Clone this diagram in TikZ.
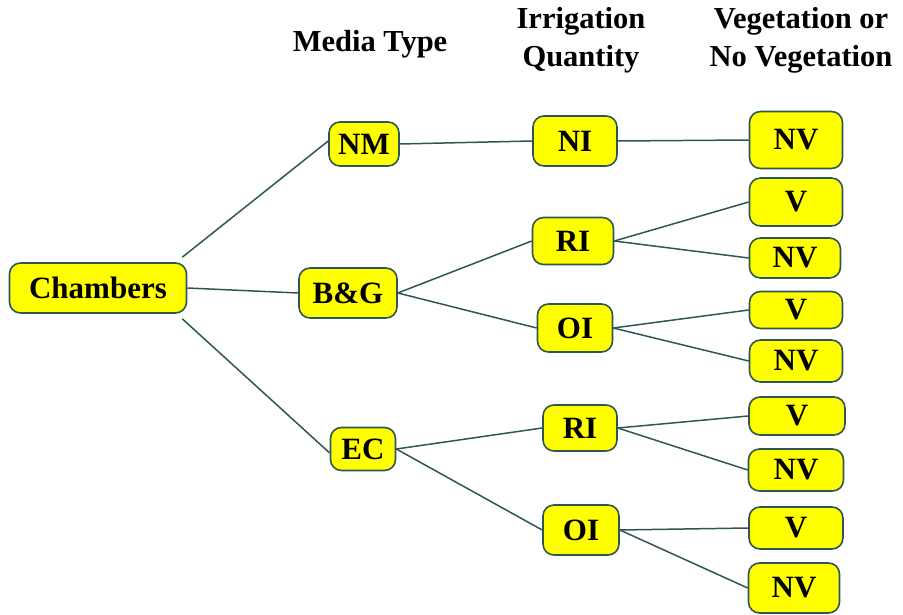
\documentclass[tikz,border=0pt]{standalone}
\usepackage{fontspec}
\setmainfont{Liberation Serif}[BoldFont={Liberation Serif Bold}]
\newfontfamily\tbf{Liberation Serif Bold}
\definecolor{linec}{HTML}{2F5656}
\definecolor{boxfill}{HTML}{FFFF00}
\begin{document}
\begin{tikzpicture}[x=1pt,y=-1pt,
  box/.style={draw=linec, line width=1.6pt, fill=boxfill, rounded corners=11pt,
    inner sep=0pt, font=\tbf\fontsize{31}{34}\selectfont},
  head/.style={align=center, inner sep=0pt, font=\tbf\fontsize{30.5}{38}\selectfont},
  conn/.style={draw=linec, line width=1.5pt}]
\useasboundingbox (0,0) rectangle (903,615);
% headers
\node[head] (h1) at (370,44) {Media Type};
\node[head] (h2) at (581,40) {Irrigation\\Quantity};
\node[head] (h3) at (801,40) {Vegetation or\\No Vegetation};
% nodes
\node[box, minimum width=177pt, minimum height=50pt] (ch) at (98,288) {Chambers};
\node[box, minimum width=70pt, minimum height=44pt] (nm) at (364,144) {NM};
\node[box, minimum width=98pt, minimum height=50pt] (bg) at (348,293) {B\&G};
\node[box, minimum width=65pt, minimum height=43pt] (ec) at (363,449) {EC};
\node[box, minimum width=84pt, minimum height=50pt] (ni) at (575,141) {NI};
\node[box, minimum width=81pt, minimum height=47pt] (ri1) at (573,241) {RI};
\node[box, minimum width=75pt, minimum height=48pt] (oi1) at (575,328) {OI};
\node[box, minimum width=74pt, minimum height=46pt] (ri2) at (580,428) {RI};
\node[box, minimum width=76pt, minimum height=50pt] (oi2) at (581,530) {OI};
\node[box, minimum width=93pt, minimum height=57pt] (nv0) at (796,140) {NV};
\node[box, minimum width=93pt, minimum height=48pt] (v1) at (796,202) {V};
\node[box, minimum width=91pt, minimum height=40pt] (nv1) at (795,258) {NV};
\node[box, minimum width=93pt, minimum height=37pt] (v2) at (796,310) {V};
\node[box, minimum width=93pt, minimum height=42pt] (nv2) at (796,361) {NV};
\node[box, minimum width=96pt, minimum height=38pt] (v3) at (797,416) {V};
\node[box, minimum width=95pt, minimum height=42pt] (nv3) at (796,470) {NV};
\node[box, minimum width=94pt, minimum height=42pt] (v4) at (796,528) {V};
\node[box, minimum width=91pt, minimum height=50pt] (nv4) at (794,588) {NV};
% connectors
\draw[conn] ([xshift=-5pt,yshift=5pt]ch.north east) -- ([yshift=3pt]nm.west);
\draw[conn] (ch.east) -- (bg.west);
\draw[conn] ([xshift=-5pt,yshift=-5pt]ch.south east) -- ([yshift=-4pt]ec.west);
\draw[conn] (nm.east) -- (ni.west);
\draw[conn] (bg.east) -- (ri1.west);
\draw[conn] (bg.east) -- (oi1.west);
\draw[conn] (ec.east) -- (ri2.west);
\draw[conn] (ec.east) -- (oi2.west);
\draw[conn] (ni.east) -- (nv0.west);
\draw[conn] (ri1.east) -- (v1.west);
\draw[conn] (ri1.east) -- (nv1.west);
\draw[conn] (oi1.east) -- (v2.west);
\draw[conn] (oi1.east) -- (nv2.west);
\draw[conn] (ri2.east) -- (v3.west);
\draw[conn] (ri2.east) -- (nv3.west);
\draw[conn] (oi2.east) -- (v4.west);
\draw[conn] (oi2.east) -- (nv4.west);
\end{tikzpicture}
\end{document}
